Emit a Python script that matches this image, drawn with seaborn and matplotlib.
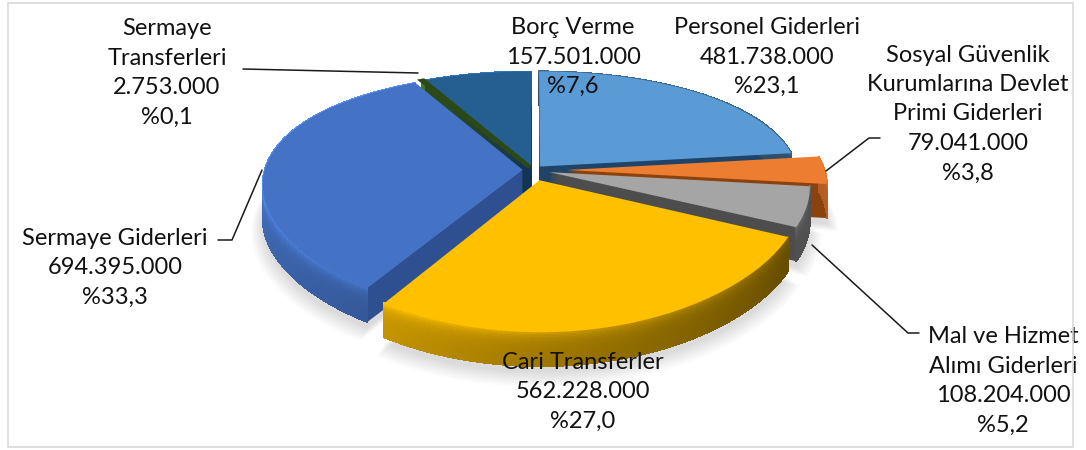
import numpy as np
import matplotlib
matplotlib.use("Agg")
import matplotlib.pyplot as plt
from matplotlib.collections import PolyCollection
from matplotlib.patches import Rectangle
from matplotlib.transforms import Affine2D, Transform
import seaborn as sns

# Data
names = ["Personel Giderleri", "Sosyal Güvenlik\nKurumlarına Devlet\nPrimi Giderleri",
         "Mal ve Hizmet\nAlımı Giderleri", "Cari Transferler", "Sermaye Giderleri",
         "Sermaye\nTransferleri", "Borç Verme"]
amounts = [481738000, 79041000, 108204000, 562228000, 694395000, 2753000, 157501000]
amount_labels = ["481.738.000", "79.041.000", "108.204.000", "562.228.000",
                 "694.395.000", "2.753.000", "157.501.000"]
percent_labels = ["%23,1", "%3,8", "%5,2", "%27,0", "%33,3", "%0,1", "%7,6"]

face_colors = ["#5b9bd5", "#ed7d31", "#a5a5a5", "#ffc000", "#4472c4", "#3f6b22", "#255e91"]
cut_colors = ["#1f4468", "#8a430f", "#4d4d4d", "#7a5c00", "#2f5090", "#2b4a17", "#12345a"]
rim_floor = [0.5, 0.75, 0.48, 0.35, 0.5, 0.5, 0.5]
explode = [0.04, 0.13, 0.065, 0.09, 0.04, 0.03, 0.03]

# painter order, back to front
draw_order = [6, 5, 0, 1, 2, 4, 3]
label_pos = [(767, 57), (968, 114), (1003, 381), (583, 392), (115, 268), (167, 73), (573, 57)]

W, H = 1086, 450
CX, CY, RX, RY = 533, 170, 258, 116
PX, PY = 0.12, 0.205
DEPTH = 34

sns.set_theme(style="white")
sns.set_palette(face_colors)
plt.rcParams["font.family"] = ["Lato", "DejaVu Sans"]


class Persp(Transform):
    # squashes the flat pie and pulls the back of it away from the viewer
    input_dims = output_dims = 2

    def transform_non_affine(self, pts):
        pts = np.asarray(pts, dtype=float)
        x, y = pts[:, 0], pts[:, 1]
        return np.column_stack([CX + RX * x / (1 + PX * y),
                                CY - RY * y / (1 + PY * y)])


fig = plt.figure(figsize=(W / 100, H / 100), dpi=100, facecolor="white")
ax = fig.add_axes([0, 0, 1, 1])
persp = Persp()


def pie_layer(offset, radius=1.0):
    wedges, _ = ax.pie(amounts, explode=explode, startangle=90, counterclock=False,
                       colors=sns.color_palette(), radius=radius,
                       wedgeprops={"linewidth": 0})
    for w in wedges:
        w.set_transform(persp + Affine2D().translate(0, offset) + ax.transData)
        w.set_clip_on(False)
    return wedges


# soft shadow under the whole pie
for k in range(12):
    for w in pie_layer(DEPTH + 6 + k * 0.6, 1.0 + k * 0.004):
        w.set_facecolor("#000000")
        w.set_alpha(0.012)
        w.set_zorder(-1)

# cut faces: copies of the pie stacked downwards
for d in range(DEPTH, 0, -1):
    for i, w in enumerate(pie_layer(d)):
        w.set_facecolor(cut_colors[i])
        w.set_zorder(draw_order.index(i) * 1000 + (DEPTH - d))

# top faces
top = pie_layer(0)
for i, w in enumerate(top):
    w.set_zorder(draw_order.index(i) * 1000 + 900)
    if i == 5:
        w.set_edgecolor("#2b4a17")
        w.set_linewidth(3)

# curved rim of every slice, shaded by angle and depth
shade_angle = [180, 230, 270, 340, 360]
shade_value = [0.95, 0.80, 0.62, 0.37, 0.45]
bands = np.linspace(0, 1, 25)
for i, w in enumerate(top):
    th = np.radians(np.linspace(w.theta1, w.theta2, 80))
    pts = np.column_stack([w.center[0] + w.r * np.cos(th), w.center[1] + w.r * np.sin(th)])
    edge = persp.transform(pts)
    polys, cols = [], []
    base = np.array(matplotlib.colors.to_rgb(face_colors[i]))
    for j in range(len(th) - 1):
        deg = np.degrees(th[j]) % 360
        if deg < 180:
            deg = deg + 360 if deg < 90 else 180
        s = max(np.interp(min(deg, 360), shade_angle, shade_value), rim_floor[i])
        for b0, b1 in zip(bands[:-1], bands[1:]):
            a, c = edge[j], edge[j + 1]
            polys.append([a + [0, b0 * DEPTH], c + [0, b0 * DEPTH],
                          c + [0, b1 * DEPTH], a + [0, b1 * DEPTH]])
            f = s * (1 + 0.35 * np.exp(-b0 * 5))
            cols.append(np.clip(base * f, 0, 1))
    rim = PolyCollection(polys, facecolors=cols, edgecolors=cols, linewidths=0.6,
                         antialiaseds=False, zorder=draw_order.index(i) * 1000 + 500)
    rim.set_clip_on(False)
    ax.add_collection(rim, autolim=False)

ax.set_aspect("auto")
ax.set_xlim(0, W)
ax.set_ylim(H, 0)
ax.axis("off")

# leader lines
leaders = [
    ([243, 418], [69, 73]),
    ([218, 232, 262], [240, 240, 170]),
    ([826, 869, 880], [171, 138, 138]),
    ([812, 908, 919], [245, 333, 333]),
]
for xs, ys in leaders:
    ax.plot(xs, ys, color="#1a1a1a", lw=1.1, zorder=9000, clip_on=False)

for name, amount, pct, (x, y) in zip(names, amount_labels, percent_labels, label_pos):
    ax.text(x, y, f"{name}\n{amount}\n{pct}", ha="center", va="center", fontsize=17,
            color="#111111", linespacing=1.5, zorder=9500)

fig.add_artist(Rectangle((8 / W, 3 / H), 1065 / W, 444 / H, transform=fig.transFigure,
                         fill=False, edgecolor="#d9d9d9", linewidth=1.2))

fig.savefig("out.png", dpi=100)
